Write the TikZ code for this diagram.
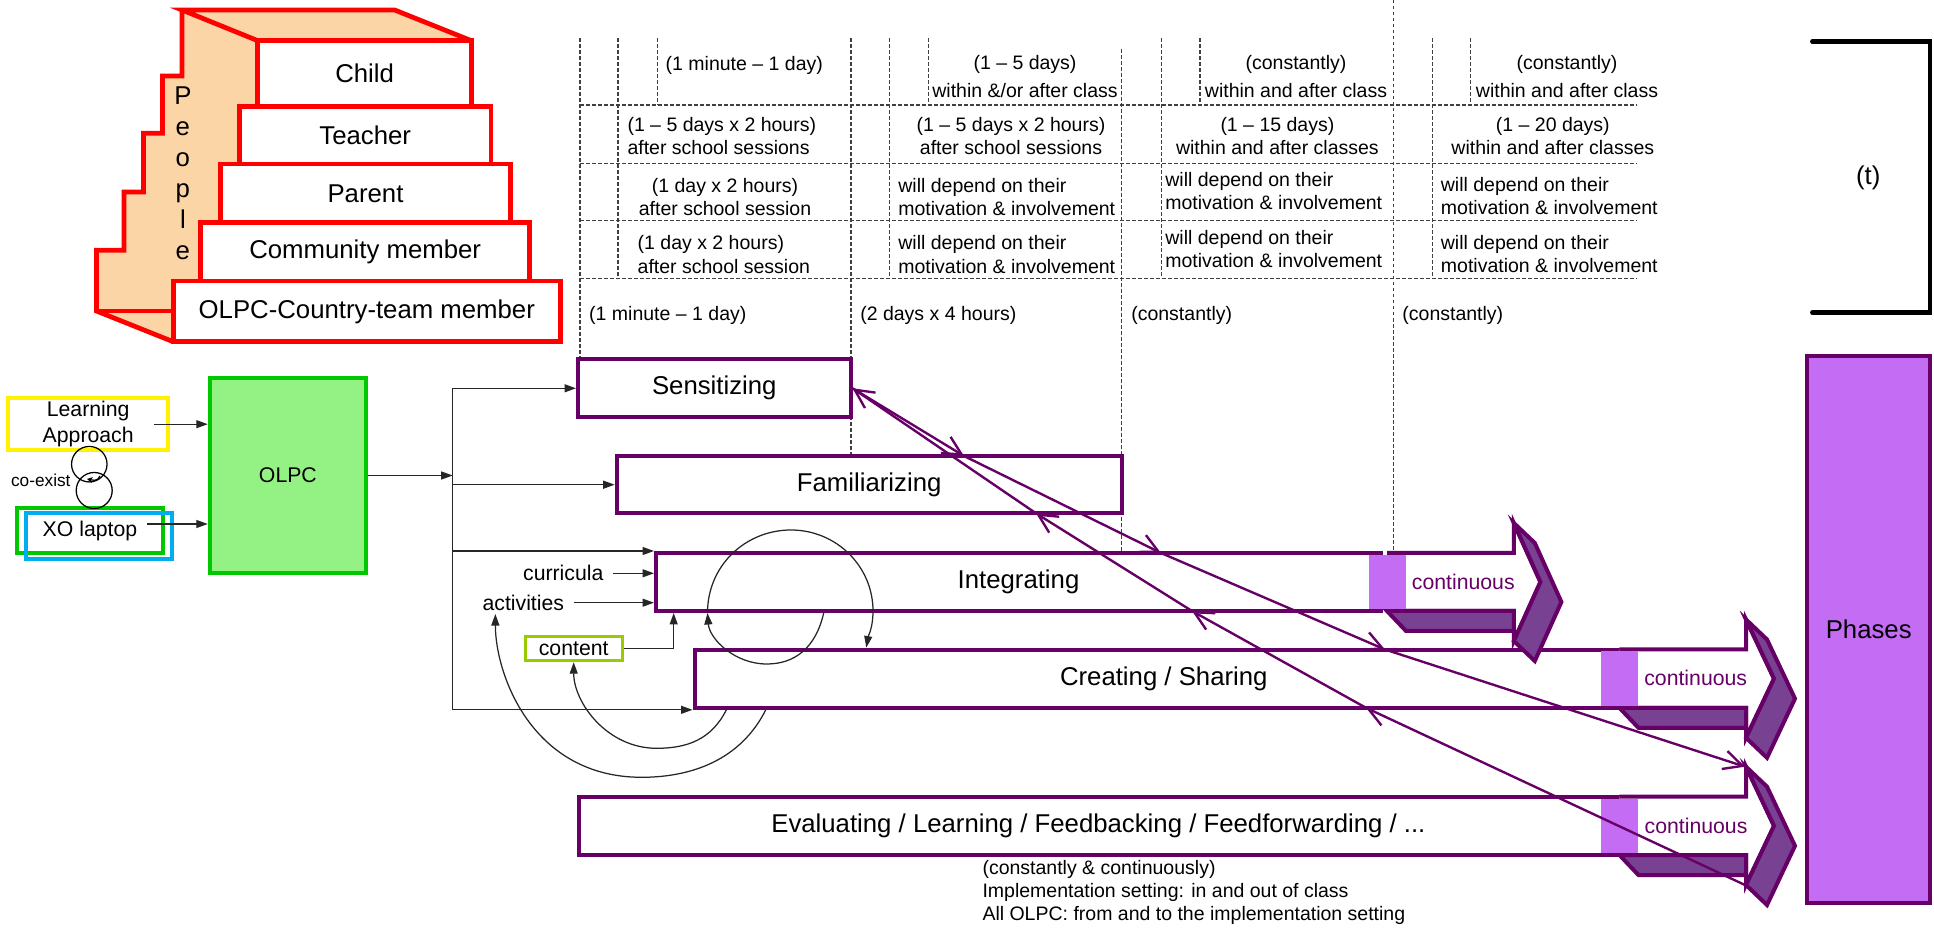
\documentclass[tikz,border=0pt]{standalone}
\usepackage{fontspec}
\setmainfont{Liberation Sans}
\usetikzlibrary{arrows.meta,calc}

\definecolor{phaseline}{RGB}{102,0,102}
\definecolor{phasefill}{RGB}{196,108,244}
\definecolor{phaseside}{RGB}{120,65,145}
\definecolor{peach}{RGB}{251,213,165}
\definecolor{olpcfill}{RGB}{147,242,131}
\definecolor{olpcgreen}{RGB}{0,200,0}
\definecolor{contentgreen}{RGB}{153,204,0}

\tikzset{
  bigfont/.style={font=\fontsize{10.3}{12.4}\selectfont},
  stepbox/.style={draw=red, line width=1.9pt, fill=white, bigfont},
  phasebox/.style={draw=phaseline, line width=1.6pt, fill=white, bigfont},
  midtext/.style={inner sep=0pt, font=\fontsize{8.5}{10.4}\selectfont},
  cellfont/.style={inner sep=0pt, font=\fontsize{7.8}{9.3}\selectfont},
  tabline/.style={draw=black!75, line width=0.45pt, dash pattern=on 1.4pt off 1pt},
  wire/.style={draw=black!85, line width=0.5pt},
  conn/.style={wire, -{Triangle[length=4.6pt,width=3.2pt]}},
  link/.style={draw=phaseline, line width=0.95pt, -{Straight Barb[length=7.5pt,width=7.5pt]}},
}

\begin{document}
\begin{tikzpicture}[x=0.4pt,y=-0.4pt]
    \useasboundingbox (0,0) rectangle (1934,931);

    % the people staircase
    \fill[peach] (182,10) -- (394.6,10) -- (471.4,40.7) -- (257.8,40.7) -- (257.8,106.7) -- (239.3,106.7) -- (239.3,164) -- (220.3,164) -- (220.3,222.7) -- (200.7,222.7) -- (200.7,281) -- (173.2,281) -- (173.2,341.7) -- (96.4,311) -- (96.4,250.3) -- (123.9,250.3) -- (123.9,192) -- (143.5,192) -- (143.5,133.3) -- (162.5,133.3) -- (162.5,76) -- (182,76) -- cycle;
    \draw[red, line width=1.9pt] (257.8,40.7) -- (182,10) -- (394.6,10) -- (471.4,40.7);
    \draw[red, line width=1.9pt] (182,10) -- (182,76) -- (162.5,76) -- (162.5,133.3) -- (143.5,133.3) -- (143.5,192) -- (123.9,192) -- (123.9,250.3) -- (96.4,250.3) -- (96.4,311) -- (173.2,341.7);
    \draw[red, line width=1.9pt] (96.4,311) -- (173.2,311);
    \node[stepbox, minimum width=154.8pt, minimum height=24.3pt] (countryteam) at (366.8,311.4) {OLPC-Country-team member};
    \node[stepbox, minimum width=131.6pt, minimum height=23.3pt] (community) at (365.2,251.9) {Community member};
    \node[stepbox, minimum width=116.2pt, minimum height=23.5pt] (parent) at (365.5,193.4) {Parent};
    \node[stepbox, minimum width=100.7pt, minimum height=22.9pt] (teacher) at (365.2,135.4) {Teacher};
    \node[stepbox, minimum width=85.4pt, minimum height=26.4pt] (child) at (364.6,73.7) {Child};
    \foreach \ch [count=\i] in {P,e,o,p,l,e}
        \node[anchor=base, inner sep=0pt, bigfont] (people\i) at (182.9,{74+31*\i}) {\ch};

    % time table
    \foreach \x/\yb in {580/359.3, 618/278.3, 657.3/105, 851/456, 889.4/278.3, 928.7/105, 1161.5/278.3, 1200/105, 1432.4/278.3, 1470.7/105}
        \draw[tabline] (\x,38.3) -- (\x,\yb);
    \draw[tabline] (1121.6,49.3) -- (1121.6,553);
    \draw[tabline] (1393.6,0) -- (1393.6,553);
    \foreach \y in {105,163.3,220.7,278.3}
        \draw[tabline] (580,\y) -- (1637,\y);

    \node[cellfont] (r1c1) at (744.3,65) {(1 minute – 1 day)};
    \node[cellfont, align=center, font=\fontsize{7.8}{11.2}\selectfont] (r1c2) at (1025,76.7) {(1 – 5 days)\\within \&/or after class};
    \node[cellfont, align=center, font=\fontsize{7.8}{11.2}\selectfont] (r1c3) at (1296,77) {(constantly)\\within and after class};
    \node[cellfont, align=center, font=\fontsize{7.8}{11.2}\selectfont] (r1c4) at (1567,77) {(constantly)\\within and after class};
    \node[cellfont, align=left, anchor=west] (r2c1) at (627,135.7) {(1 – 5 days x 2 hours)\\after school sessions};
    \node[cellfont, align=center] (r2c2) at (1011,135.7) {(1 – 5 days x 2 hours)\\after school sessions};
    \node[cellfont, align=center] (r2c3) at (1277.4,135.7) {(1 – 15 days)\\within and after classes};
    \node[cellfont, align=center] (r2c4) at (1552.8,135.7) {(1 – 20 days)\\within and after classes};
    \node[cellfont, align=center] (r3c1) at (725,196.7) {(1 day x 2 hours)\\after school session};
    \node[cellfont, align=left, anchor=west] (r3c2) at (897.9,196.7) {will depend on their\\motivation \& involvement};
    \node[cellfont, align=left, anchor=west] (r3c3) at (1164.9,191.2) {will depend on their\\motivation \& involvement};
    \node[cellfont, align=left, anchor=west] (r3c4) at (1440.4,196.2) {will depend on their\\motivation \& involvement};
    \node[cellfont, align=left, anchor=west] (r4c1) at (637.2,254.5) {(1 day x 2 hours)\\after school session};
    \node[cellfont, align=left, anchor=west] (r4c2) at (897.9,254.5) {will depend on their\\motivation \& involvement};
    \node[cellfont, align=left, anchor=west] (r4c3) at (1164.9,248.7) {will depend on their\\motivation \& involvement};
    \node[cellfont, align=left, anchor=west] (r4c4) at (1440.4,254.2) {will depend on their\\motivation \& involvement};
    \node[cellfont, anchor=west] (r5c1) at (588.7,315) {(1 minute – 1 day)};
    \node[cellfont, anchor=west] (r5c2) at (859.8,315) {(2 days x 4 hours)};
    \node[cellfont, anchor=west] (r5c3) at (1130.8,315) {(constantly)};
    \node[cellfont, anchor=west] (r5c4) at (1401.9,315) {(constantly)};

    \draw[line width=1.8pt, line cap=round] (1812.3,41.7) -- (1930,41.7) -- (1930,312.7) -- (1812.3,312.7);
    \node[inner sep=0pt, bigfont] (tlabel) at (1868.3,178.3) {(t)};

    % inputs
    \node[draw=yellow, line width=1.6pt, minimum width=64.1pt, minimum height=20.7pt, align=center, midtext] (learning) at (88.2,424.2) {Learning\\Approach};
    \node[draw=olpcgreen, fill=olpcfill, line width=1.6pt, minimum width=62.5pt, minimum height=77.8pt, midtext] (olpc) at (287.9,475.5) {OLPC};
    \node[draw=olpcgreen, line width=1.6pt, minimum width=58.4pt, minimum height=18pt, midtext] (xo) at (90,530.8) {XO laptop};
    \node[draw=cyan, line width=1.6pt, minimum width=58.6pt, minimum height=18.4pt] (xoframe) at (99.1,536.3) {};
    \node[draw, circle, line width=0.5pt, minimum size=14.2pt, inner sep=0pt] (ringtop) at (89.3,464.2) {};
    \node[draw, circle, line width=0.5pt, minimum size=14.4pt, inner sep=0pt] (ringbottom) at (94.2,490.5) {};
    \node[inner sep=0pt, font=\fontsize{6.9}{8}\selectfont] (coexist) at (40.8,480) {co-exist};
    \draw[line width=0.5pt, -{Stealth[length=2.2pt,width=2.4pt]}] (100,476) .. controls +(-2,6) and +(5,1) .. (87,479);

    \draw[conn] ([xshift=-6.6pt]learning.east) -- (learning.east -| olpc.west);
    \coordinate (xoout) at ($(xo.east)+(-18,-6.8)$);
    \draw[conn] (xoout) -- (xoout -| olpc.west);

    % phases
    \node[phasebox, minimum width=109pt, minimum height=23.2pt] (sens) at (714.3,388.3) {Sensitizing};
    \node[phasebox, minimum width=202pt, minimum height=22.9pt] (famil) at (869.2,484.7) {Familiarizing};
    \node[phasebox, minimum width=290pt, minimum height=23.2pt] (integ) at (1018.5,582) {Integrating};
    \node[phasebox, minimum width=375.4pt, minimum height=23.3pt] (create) at (1163.8,678.7) {Creating / Sharing};
    \node[phasebox, minimum width=415.5pt, minimum height=23.3pt] (evaluate) at (1098.4,825.9) {Evaluating / Learning / Feedbacking / Feedforwarding / ...};

    \foreach \xa/\yt/\yb/\xh/\xt in {1387/553/611/1513.8/1540.4, 1619.4/649.5/707.8/1746/1774, 1619.4/796.7/855/1746/1774} {
        \draw[draw=phaseline, line width=1.6pt, fill=white] (\xa,\yt) -- (\xh,\yt) -- (\xh,\yt-30) -- (\xt,{(\yt+\yb)/2}) -- (\xh,\yb+30) -- (\xh,\yb) -- (\xa,\yb);
        \filldraw[fill=phaseside, draw=phaseline, line width=1.6pt] (\xa,\yb) -- (\xh,\yb) -- (\xh,\yb+20) -- (\xa+19,\yb+20) -- cycle;
        \filldraw[fill=phaseside, draw=phaseline, line width=1.6pt] (\xh,\yt-30) -- (\xh+21,\yt-10) -- (\xt+21,{(\yt+\yb)/2+20}) -- (\xh+21,\yb+50) -- (\xh,\yb+30) -- (\xt,{(\yt+\yb)/2}) -- cycle;
        \fill[phasefill] (\xa-18,\yt+2) rectangle (\xa+19,\yb-2);
    }
    \node[midtext, text=phaseline] (contint) at (1463.3,582.3) {continuous};
    \node[midtext, text=phaseline] (contcreate) at (1695.7,678.3) {continuous};
    \node[midtext, text=phaseline] (conteval) at (1696,825.7) {continuous};

    \node[draw=phaseline, fill=phasefill, line width=1.6pt, minimum width=49.3pt, minimum height=218.9pt, bigfont] (phases) at (1868.7,629.7) {Phases};

    \node[cellfont, anchor=west, align=left] (notes) at (982,892.5) {(constantly \& continuously)\\Implementation setting: in and out of class\\All OLPC: from and to the implementation setting};

    % OLPC feeding the phases
    \coordinate (trunk) at (452.7,0);
    \draw[conn] (olpc.east) -- (olpc.east -| trunk);
    \draw[wire] (trunk |- sens.west) -- (trunk |- create.south west);
    \draw[conn] (trunk |- sens.west) -- (sens.west);
    \draw[conn] (trunk |- famil.west) -- (famil.west);
    \draw[conn] (trunk |- integ.north west) -- (integ.north west);
    \draw[conn] (trunk |- create.south west) -- (create.south west);

    \node[midtext] (curricula) at (563.3,573.3) {curricula};
    \node[midtext] (activities) at (523.3,602.7) {activities};
    \node[draw=contentgreen, line width=1.2pt, minimum width=38.9pt, minimum height=9.6pt, midtext] (content) at (573.7,648.7) {content};
    \draw[conn] ([xshift=3.6pt]curricula.east) -- (curricula.east -| integ.west);
    \draw[conn] ([xshift=3.7pt]activities.east) -- (activities.east -| integ.west);
    \draw[conn] (content.east) -| ($(integ.south west)+(19.7,0)$);

    % loops between integrating and creating
    \coordinate (loopL) at ($(integ.south west)+(53.5,0)$);
    \coordinate (loopA) at ($(integ.south west)+(169.7,0)$);
    \coordinate (loopR) at ($(create.north west)+(173.8,0)$);
    \coordinate (loopC) at ($(create.south west)+(33.8,0)$);
    \coordinate (loopD) at ($(create.south west)+(73.2,0)$);
    \draw[conn] (loopA) .. controls +(-8,35) and +(28,0) .. (766.7,664) .. controls +(-32,0) and +(2,26) .. (loopL);
    \draw[conn] (loopL) .. controls +(0,-48) and +(-45,0) .. (791,530) .. controls +(45,0) and +(0,-45) .. (873,611) .. controls +(0,17) and +(2,-12) .. (loopR);
    \draw[conn] (loopC) .. controls +(-15,30) and +(30,0) .. (656.7,748.3) .. controls +(-50,0) and +(0,40) .. (content.south);
    \draw[conn] (loopD) .. controls +(-25,50) and +(50,0) .. (641.7,777.3) .. controls +(-110,0) and +(0,60) .. ($(activities.south west)+(13.3,3)$);

    % sensitizing links
    \coordinate (fwd1) at (964,456);
    \coordinate (fwd2) at (1161,553);
    \coordinate (fwd3) at (1385,649.5);
    \coordinate (fwd4) at (1745,766.7);
    \coordinate (back1) at (1036,513.3);
    \coordinate (back2) at (1192,611);
    \coordinate (back3) at (1366,707.8);
    \coordinate (back4) at (1745,885);
    \draw[link] (sens.east) -- (fwd1);
    \draw[link] (fwd1) -- (fwd2);
    \draw[link] (fwd2) -- (fwd3);
    \draw[link] (fwd3) -- (fwd4);
    \draw[link] (back1) -- (sens.east);
    \draw[link] (back2) -- (back1);
    \draw[link] (back3) -- (back2);
    \draw[link] (back4) -- (back3);
\end{tikzpicture}
\end{document}
